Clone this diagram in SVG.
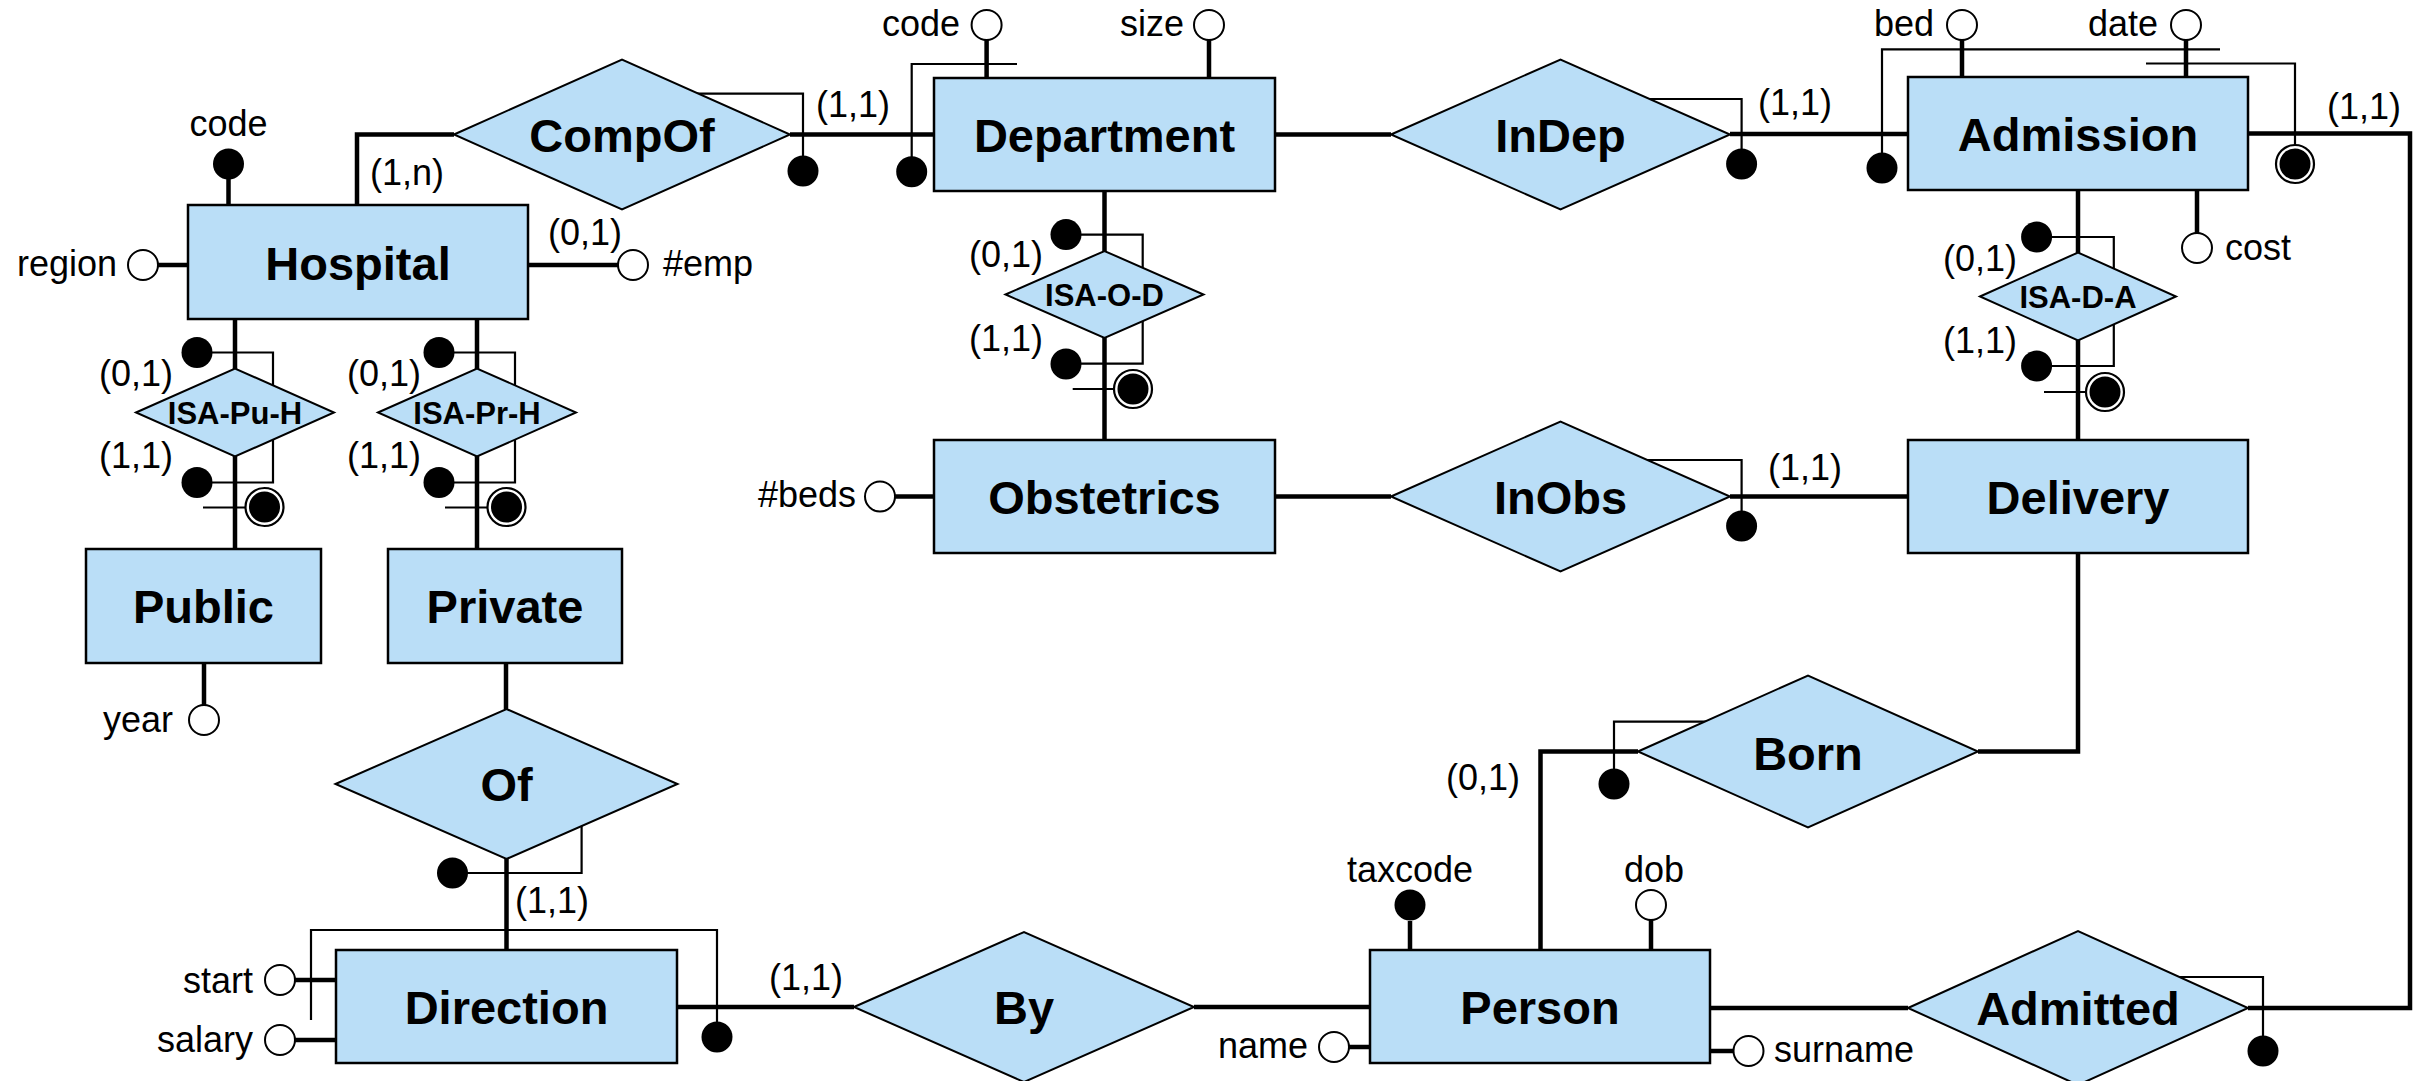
<svg xmlns="http://www.w3.org/2000/svg" width="2425" height="1081" viewBox="0 0 2425 1081">
  <style>
    .ent { fill: #BADEF7; stroke: #000; stroke-width: 2.5; }
    .rel { fill: #BADEF7; stroke: #000; stroke-width: 2; }
    .thick { fill: none; stroke: #000; stroke-width: 4.5; }
    .thin { fill: none; stroke: #000; stroke-width: 2.2; }
    .key { fill: #000; }
    .opt { fill: #fff; stroke: #000; stroke-width: 2; }
    .ring { fill: #fff; stroke: #000; stroke-width: 2.2; }
    text { font-family: "Liberation Sans", Arial, sans-serif; fill: #000; }
    .lbl { font-size: 47px; font-weight: bold; text-anchor: middle; }
    .isa { font-size: 31px; font-weight: bold; text-anchor: middle; }
    .t { font-size: 36px; }
    .end { text-anchor: end; }
    .mid { text-anchor: middle; }
  </style>
  <rect width="2425" height="1081" fill="#fff"/>

  <!-- relationship lines and identifier brackets, drawn beneath the shapes -->
  <g id="connectors">
    <!-- relationship links -->
    <path class="thick" d="M357 205 V134.5 H454"/>
    <path class="thick" d="M790 134.5 H934"/>
    <path class="thick" d="M1275 134.5 H1391"/>
    <path class="thick" d="M1730 134 H1908"/>
    <path class="thick" d="M2248 133.5 H2410 V1008 H2248"/>
    <path class="thick" d="M235 319 V549"/>
    <path class="thick" d="M477 319 V549"/>
    <path class="thick" d="M1104.5 191 V440"/>
    <path class="thick" d="M2078 190 V440"/>
    <path class="thick" d="M1275 496.5 H1391"/>
    <path class="thick" d="M1730 496.5 H1908"/>
    <path class="thick" d="M2078 553 V751.5 H1978"/>
    <path class="thick" d="M1638 751.5 H1540.5 V950"/>
    <path class="thick" d="M506 663 V709"/>
    <path class="thick" d="M506.5 859 V950"/>
    <path class="thick" d="M677 1007 H854"/>
    <path class="thick" d="M1194 1007 H1370"/>
    <path class="thick" d="M1710 1008 H1908"/>

    <!-- external identifiers -->
    <path class="thin" d="M690 93.6 H803 V171"/>
    <circle class="key" cx="803" cy="171" r="15.5"/>
    <path class="thin" d="M1640 99 H1741.6 V164"/>
    <circle class="key" cx="1741.6" cy="164" r="15.5"/>
    <path class="thin" d="M1640 460 H1741.6 V526"/>
    <circle class="key" cx="1741.6" cy="526" r="15.5"/>
    <path class="thin" d="M1707 721.7 H1614 V784"/>
    <circle class="key" cx="1614" cy="784" r="15.5"/>
    <path class="thin" d="M581.6 820 V873 H452.5"/>
    <circle class="key" cx="452.5" cy="873" r="15.5"/>
    <path class="thin" d="M2170 977 H2263 V1051"/>
    <circle class="key" cx="2263" cy="1051" r="15.5"/>

    <!-- internal / composite identifiers -->
    <path class="thin" d="M911.7 171 V64 H1017"/>
    <circle class="key" cx="911.7" cy="171.7" r="15.5"/>
    <path class="thin" d="M1882 168 V49.3 H2220"/>
    <circle class="key" cx="1882" cy="168" r="15.5"/>
    <path class="thin" d="M2146 63.5 H2295 V160"/>
    <circle class="ring" cx="2295" cy="164" r="19"/>
    <circle class="key" cx="2295" cy="164" r="15.5"/>
    <path class="thin" d="M311 1020 V930 H717 V1037"/>
    <circle class="key" cx="717" cy="1037" r="15.5"/>

    <!-- generalization cardinality brackets -->
    <g id="isa-bracket-pu">
      <path class="thin" d="M197 352.5 H273 V482.5 H197"/>
      <circle class="key" cx="197" cy="352.5" r="15.5"/>
      <circle class="key" cx="197" cy="482.5" r="15.5"/>
      <path class="thin" d="M203 507.5 H245"/>
      <circle class="ring" cx="264.5" cy="507" r="19"/>
      <circle class="key" cx="264.5" cy="507" r="15.5"/>
    </g>
    <g id="isa-bracket-pr">
      <path class="thin" d="M439 352.5 H515 V482.5 H439"/>
      <circle class="key" cx="439" cy="352.5" r="15.5"/>
      <circle class="key" cx="439" cy="482.5" r="15.5"/>
      <path class="thin" d="M445 507.5 H487"/>
      <circle class="ring" cx="506.5" cy="507" r="19"/>
      <circle class="key" cx="506.5" cy="507" r="15.5"/>
    </g>
    <g id="isa-bracket-od">
      <path class="thin" d="M1066 234.6 H1142.7 V363.6 H1066"/>
      <circle class="key" cx="1066" cy="234.6" r="15.5"/>
      <circle class="key" cx="1066" cy="364" r="15.5"/>
      <path class="thin" d="M1072.7 389 H1114"/>
      <circle class="ring" cx="1133" cy="389" r="19"/>
      <circle class="key" cx="1133" cy="389" r="15.5"/>
    </g>
    <g id="isa-bracket-da">
      <path class="thin" d="M2036.6 237 H2113.8 V366 H2036.6"/>
      <circle class="key" cx="2036.6" cy="237" r="15.5"/>
      <circle class="key" cx="2036.6" cy="366" r="15.5"/>
      <path class="thin" d="M2044 392 H2086"/>
      <circle class="ring" cx="2105" cy="392" r="19"/>
      <circle class="key" cx="2105" cy="392" r="15.5"/>
    </g>

    <!-- cardinalities -->
    <text class="t" x="370" y="185">(1,n)</text>
    <text class="t" x="548" y="245">(0,1)</text>
    <text class="t" x="816" y="117">(1,1)</text>
    <text class="t" x="99" y="386">(0,1)</text>
    <text class="t" x="99" y="468">(1,1)</text>
    <text class="t" x="347" y="386">(0,1)</text>
    <text class="t" x="347" y="468">(1,1)</text>
    <text class="t" x="969" y="267">(0,1)</text>
    <text class="t" x="969" y="351">(1,1)</text>
    <text class="t" x="1758" y="115">(1,1)</text>
    <text class="t" x="2327" y="119">(1,1)</text>
    <text class="t" x="1943" y="271">(0,1)</text>
    <text class="t" x="1943" y="353">(1,1)</text>
    <text class="t" x="1768" y="480">(1,1)</text>
    <text class="t" x="1446" y="790">(0,1)</text>
    <text class="t" x="515" y="913">(1,1)</text>
    <text class="t" x="769" y="990">(1,1)</text>
  </g>

  <!-- entities -->
  <g id="Hospital">
    <path class="thick" d="M228.5 205 V164 M158 265 H188 M528 265 H618"/>
    <circle class="key" cx="228.5" cy="164" r="15.5"/>
    <circle class="opt" cx="143" cy="265" r="15"/>
    <circle class="opt" cx="633" cy="265" r="15"/>
    <text class="t mid" x="228.5" y="136">code</text>
    <text class="t end" x="117" y="276">region</text>
    <text class="t" x="663" y="276">#emp</text>
    <rect class="ent" x="188" y="205" width="340" height="114"/>
    <text class="lbl" x="358" y="280">Hospital</text>
  </g>
  <g id="Department">
    <path class="thick" d="M986.6 78 V40 M1209 78 V40"/>
    <circle class="opt" cx="986.6" cy="25" r="15"/>
    <circle class="opt" cx="1209" cy="25" r="15"/>
    <text class="t end" x="960" y="36">code</text>
    <text class="t end" x="1184" y="36">size</text>
    <rect class="ent" x="934" y="78" width="341" height="113"/>
    <text class="lbl" x="1104.5" y="152">Department</text>
  </g>
  <g id="Admission">
    <path class="thick" d="M1962 77 V40 M2186 77 V40 M2197 190 V233"/>
    <circle class="opt" cx="1962" cy="25" r="15"/>
    <circle class="opt" cx="2186" cy="25" r="15"/>
    <circle class="opt" cx="2197" cy="248" r="15"/>
    <text class="t end" x="1934" y="36">bed</text>
    <text class="t end" x="2158" y="36">date</text>
    <text class="t" x="2225" y="260">cost</text>
    <rect class="ent" x="1908" y="77" width="340" height="113"/>
    <text class="lbl" x="2078" y="151">Admission</text>
  </g>
  <g id="Public">
    <path class="thick" d="M204 663 V705"/>
    <circle class="opt" cx="204" cy="720" r="15"/>
    <text class="t end" x="173" y="732">year</text>
    <rect class="ent" x="86" y="549" width="235" height="114"/>
    <text class="lbl" x="203.5" y="623">Public</text>
  </g>
  <g id="Private">
    <rect class="ent" x="388" y="549" width="234" height="114"/>
    <text class="lbl" x="505" y="623">Private</text>
  </g>
  <g id="Obstetrics">
    <path class="thick" d="M895 496.5 H934"/>
    <circle class="opt" cx="880" cy="496.5" r="15"/>
    <text class="t end" x="856" y="507">#beds</text>
    <rect class="ent" x="934" y="440" width="341" height="113"/>
    <text class="lbl" x="1104.5" y="514">Obstetrics</text>
  </g>
  <g id="Delivery">
    <rect class="ent" x="1908" y="440" width="340" height="113"/>
    <text class="lbl" x="2078" y="514">Delivery</text>
  </g>
  <g id="Direction">
    <path class="thick" d="M295 980 H336 M295 1040 H336"/>
    <circle class="opt" cx="280" cy="980" r="15"/>
    <circle class="opt" cx="280" cy="1040" r="15"/>
    <text class="t end" x="253" y="993">start</text>
    <text class="t end" x="253" y="1052">salary</text>
    <rect class="ent" x="336" y="950" width="341" height="113"/>
    <text class="lbl" x="506.5" y="1024">Direction</text>
  </g>
  <g id="Person">
    <path class="thick" d="M1410 950 V921 M1651 950 V920 M1349 1047 H1370 M1710 1051 H1734"/>
    <circle class="key" cx="1410" cy="905" r="15.5"/>
    <circle class="opt" cx="1651" cy="905" r="15"/>
    <circle class="opt" cx="1334" cy="1047" r="15"/>
    <circle class="opt" cx="1748.5" cy="1051" r="15"/>
    <text class="t mid" x="1410" y="882">taxcode</text>
    <text class="t mid" x="1654" y="882">dob</text>
    <text class="t end" x="1308" y="1058">name</text>
    <text class="t" x="1774" y="1062">surname</text>
    <rect class="ent" x="1370" y="950" width="340" height="113"/>
    <text class="lbl" x="1540" y="1024">Person</text>
  </g>

  <!-- relationships -->
  <g id="CompOf">
    <polygon class="rel" points="454,134.5 622,59.5 790,134.5 622,209.5"/>
    <text class="lbl" x="622" y="152">CompOf</text>
  </g>
  <g id="InDep">
    <polygon class="rel" points="1391,134.5 1560.5,59.5 1730,134.5 1560.5,209.5"/>
    <text class="lbl" x="1560.5" y="152">InDep</text>
  </g>
  <g id="InObs">
    <polygon class="rel" points="1391,496.5 1560.5,421.5 1730,496.5 1560.5,571.5"/>
    <text class="lbl" x="1560.5" y="514">InObs</text>
  </g>
  <g id="Born">
    <polygon class="rel" points="1638,751.5 1808,675.5 1978,751.5 1808,827.5"/>
    <text class="lbl" x="1808" y="770">Born</text>
  </g>
  <g id="Of">
    <polygon class="rel" points="335.5,784 506.5,709 677.5,784 506.5,859"/>
    <text class="lbl" x="506.5" y="801">Of</text>
  </g>
  <g id="By">
    <polygon class="rel" points="854,1007 1024,932 1194,1007 1024,1082"/>
    <text class="lbl" x="1024" y="1024">By</text>
  </g>
  <g id="Admitted">
    <polygon class="rel" points="1908,1008 2078,931 2248,1008 2078,1085"/>
    <text class="lbl" x="2078" y="1025">Admitted</text>
  </g>
  <g id="ISA-Pu-H">
    <polygon class="rel" points="136,412.5 235,368.5 334,412.5 235,456.5"/>
    <text class="isa" x="235" y="424">ISA-Pu-H</text>
  </g>
  <g id="ISA-Pr-H">
    <polygon class="rel" points="378,412.5 477,368.5 576,412.5 477,456.5"/>
    <text class="isa" x="477" y="424">ISA-Pr-H</text>
  </g>
  <g id="ISA-O-D">
    <polygon class="rel" points="1005.5,294.5 1104.5,251 1203.5,294.5 1104.5,338"/>
    <text class="isa" x="1104.5" y="306">ISA-O-D</text>
  </g>
  <g id="ISA-D-A">
    <polygon class="rel" points="1980,296.5 2078,252.5 2176,296.5 2078,340.5"/>
    <text class="isa" x="2078" y="308">ISA-D-A</text>
  </g>
</svg>
